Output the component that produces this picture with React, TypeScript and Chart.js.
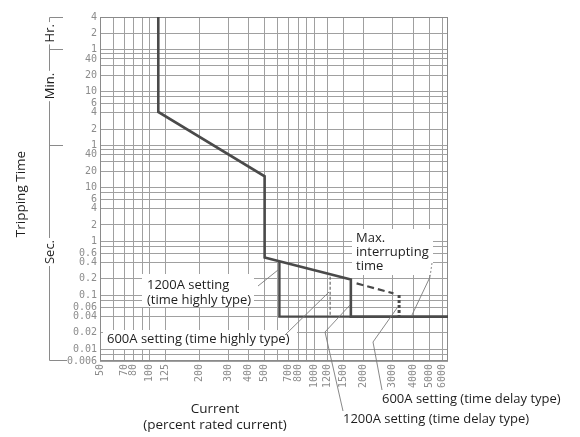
import React, { useEffect, useRef } from 'react';
import { Chart, registerables } from 'chart.js';

Chart.register(...registerables);

// ---------- data ----------
// Current in % of rated current (x), tripping time in seconds (y)
const xGridValues = [50, 60, 70, 80, 90, 100, 125, 200, 300, 400, 500, 600, 700, 800, 900, 1000, 1200, 1500, 2000, 3000, 4000, 5000, 6000];
const xTickLabels = ['50', '70', '80', '100', '125', '200', '300', '400', '500', '700', '800', '1000', '1200', '1500', '2000', '3000', '4000', '5000', '6000'];

const yGridValues = [14400, 7200, 3600, 3000, 2400, 1800, 1200, 600, 480, 360, 240, 120, 60, 50, 40, 30, 20, 10, 8, 6, 4, 2, 1, 0.8, 0.6, 0.4, 0.2, 0.1, 0.08, 0.06, 0.04, 0.02, 0.01, 0.008, 0.006];
const yTickValues = [14400, 7200, 3600, 2400, 1200, 600, 360, 240, 120, 60, 40, 20, 10, 6, 4, 2, 1, 0.6, 0.4, 0.2, 0.1, 0.06, 0.04, 0.02, 0.01, 0.006];
const yTickLabels = ['4', '2', '1', '40', '20', '10', '6', '4', '2', '1', '40', '20', '10', '6', '4', '2', '1', '0.6', '0.4', '0.2', '0.1', '0.06', '0.04', '0.02', '0.01', '0.006'];

const mainCurrent = [113, 113, 500, 500, 1670, 1670, 6500];
const mainTime = [14400, 250, 16, 0.5, 0.194, 0.04, 0.04];

const branch600Current = [615, 615, 1670];
const branch600Time = [0.42, 0.04, 0.04];

const delay1200Current = [1250, 1250];
const delay1200Time = [0.22, 0.04];

const maxInterruptCurrent = [1810, 3030];
const maxInterruptTime = [0.165, 0.108];

const maxDropCurrent = [3280, 3280];
const maxDropTime = [0.1, 0.04];

const X_MIN = 50;
const X_MAX = 6500;
const Y_MIN = 0.006;
const Y_MAX = 14400;

const toPoints = (xs: number[], ys: number[]) => xs.map((x, i) => ({ x, y: ys[i] }));

const TEXT_FONT = '"Open Sans", "Noto Sans", sans-serif';

function drawText(ctx: CanvasRenderingContext2D, s: string, x: number, y: number, size = 13, align: CanvasTextAlign = 'left') {
  ctx.font = `${size}px ${TEXT_FONT}`;
  ctx.fillStyle = '#1e1e1e';
  ctx.textAlign = align;
  ctx.textBaseline = 'middle';
  ctx.fillText(s, x, y);
}

function line(ctx: CanvasRenderingContext2D, pts: number[][], dash: number[] = []) {
  ctx.beginPath();
  ctx.setLineDash(dash);
  pts.forEach((p, i) => (i === 0 ? ctx.moveTo(p[0], p[1]) : ctx.lineTo(p[0], p[1])));
  ctx.stroke();
  ctx.setLineDash([]);
}

const overlayPlugin = {
  id: 'overlay',
  beforeDatasetsDraw(chart: any) {
    const ctx: CanvasRenderingContext2D = chart.ctx;
    const { left, right, top, bottom } = chart.chartArea;
    ctx.save();
    ctx.strokeStyle = '#8a8a8a';
    ctx.lineWidth = 1;
    ctx.strokeRect(Math.round(left) + 0.5, Math.round(top) + 0.5, Math.round(right - left) - 1, Math.round(bottom - top) - 1);

    // annotation boxes
    ctx.fillStyle = '#ffffff';
    ctx.fillRect(142, 274, 112, 33);
    ctx.fillRect(103, 330, 194, 19);
    ctx.fillRect(352, 229, 81, 46);

    drawText(ctx, '1200A setting', 147, 285.5);
    drawText(ctx, '(time highly type)', 147, 300.5);
    drawText(ctx, '600A setting (time highly type)', 107, 339.5);
    drawText(ctx, 'Max.', 356, 238.5);
    drawText(ctx, 'interrupting', 356, 252.5);
    drawText(ctx, 'time', 356, 266.5);
    ctx.restore();
  },
  afterDraw(chart: any) {
    const ctx: CanvasRenderingContext2D = chart.ctx;
    const yS = chart.scales.y;
    const { top, bottom } = chart.chartArea;
    ctx.save();

    // leader lines
    ctx.strokeStyle = '#7a7a7a';
    ctx.lineWidth = 0.9;
    line(ctx, [[258, 286], [278, 270]]);
    line(ctx, [[285, 335], [329, 292]]);
    line(ctx, [[432, 263], [430, 277]], [2, 2]);
    line(ctx, [[430, 277], [412, 315]]);
    line(ctx, [[343, 411], [325, 332], [350, 305]]);
    line(ctx, [[382, 390], [373, 342], [397, 308]]);

    // unit bracket on the left
    const yHr = yS.getPixelForValue(3600);
    const yMin = yS.getPixelForValue(60);
    const bx = 49.5;
    ctx.strokeStyle = '#8a8a8a';
    ctx.lineWidth = 1;
    line(ctx, [[bx, top + 0.5], [bx, bottom - 0.5]]);
    line(ctx, [[bx, top + 0.5], [63, top + 0.5]]);
    line(ctx, [[bx, Math.round(yHr) + 0.5], [63, Math.round(yHr) + 0.5]]);
    line(ctx, [[bx, Math.round(yMin) + 0.5], [63, Math.round(yMin) + 0.5]]);
    line(ctx, [[bx, bottom - 0.5], [67, bottom - 0.5]]);

    const vLabel = (s: string, x: number, y: number) => {
      ctx.save();
      ctx.translate(x, y);
      ctx.rotate(-Math.PI / 2);
      ctx.font = `13px ${TEXT_FONT}`;
      const w = ctx.measureText(s).width;
      ctx.fillStyle = '#fff';
      ctx.fillRect(-w / 2 - 2, -8, w + 4, 16);
      drawText(ctx, s, 0, 0, 13, 'center');
      ctx.restore();
    };
    vLabel('Hr.', 50, (top + yHr) / 2);
    vLabel('Min.', 50, 86);
    vLabel('Sec.', 50, 252);

    // axis titles
    ctx.save();
    ctx.translate(21, 194);
    ctx.rotate(-Math.PI / 2);
    drawText(ctx, 'Tripping Time', 0, 0, 13.5, 'center');
    ctx.restore();

    drawText(ctx, 'Current', 215, 409, 13.5, 'center');
    drawText(ctx, '(percent rated current)', 215, 425, 13.5, 'center');

    drawText(ctx, '600A setting (time delay type)', 382, 399.5);
    drawText(ctx, '1200A setting (time delay type)', 343, 419.5);
    ctx.restore();
  },
};

const tickFont = { family: '"DejaVu Sans Mono", monospace', size: 10 };

export default function App() {
  const ref = useRef<HTMLCanvasElement | null>(null);

  useEffect(() => {
    if (!ref.current) return;
    const chart = new Chart(ref.current, {
      type: 'line',
      data: {
        datasets: [
          { data: toPoints(mainCurrent, mainTime), borderColor: '#4a4a4a', borderWidth: 2.6 },
          { data: toPoints(branch600Current, branch600Time), borderColor: '#4a4a4a', borderWidth: 2.4 },
          { data: toPoints(delay1200Current, delay1200Time), borderColor: '#6a6a6a', borderWidth: 1.2, borderDash: [3, 2] },
          { data: toPoints(maxInterruptCurrent, maxInterruptTime), borderColor: '#4a4a4a', borderWidth: 2.2, borderDash: [7, 4] },
          { data: toPoints(maxDropCurrent, maxDropTime), borderColor: '#4a4a4a', borderWidth: 3, borderDash: [3, 2] },
        ].map((d) => ({ ...d, pointRadius: 0, tension: 0, fill: false })),
      },
      options: {
        responsive: false,
        animation: false,
        layout: { padding: { top: 17, right: 132, left: 0, bottom: 0 } },
        plugins: { legend: { display: false }, tooltip: { enabled: false } },
        scales: {
          x: {
            type: 'logarithmic',
            min: X_MIN,
            max: X_MAX,
            afterBuildTicks: (s: any) => {
              s.ticks = xGridValues.map((v) => ({ value: v }));
            },
            afterFit: (s: any) => {
              s.height = 76;
            },
            grid: { color: '#a0a0a0', lineWidth: 1, drawTicks: false },
            border: { display: false },
            ticks: {
              autoSkip: false,
              minRotation: 90,
              maxRotation: 90,
              padding: 3,
              color: '#8c8c8c',
              font: tickFont,
              callback: (v: any) => (xTickLabels.includes(String(v)) ? String(v) : ''),
            },
          },
          y: {
            type: 'logarithmic',
            min: Y_MIN,
            max: Y_MAX,
            afterBuildTicks: (s: any) => {
              s.ticks = yGridValues.map((v) => ({ value: v }));
            },
            afterFit: (s: any) => {
              s.width = 100;
            },
            grid: { color: '#a0a0a0', lineWidth: 1, drawTicks: false },
            border: { display: false },
            ticks: {
              autoSkip: false,
              padding: 3,
              color: '#8c8c8c',
              font: tickFont,
              callback: (v: any) => {
                const i = yTickValues.findIndex((t) => Math.abs(t - Number(v)) / t < 1e-6);
                return i >= 0 ? yTickLabels[i] : '';
              },
            },
          },
        },
      },
      plugins: [overlayPlugin],
    } as any);
    return () => chart.destroy();
  }, []);

  return (
    <div style={{ position: 'absolute', left: 0, top: 0, width: 580, height: 437, background: '#fff' }}>
      <canvas ref={ref} width={580} height={437} style={{ display: 'block' }} />
    </div>
  );
}
